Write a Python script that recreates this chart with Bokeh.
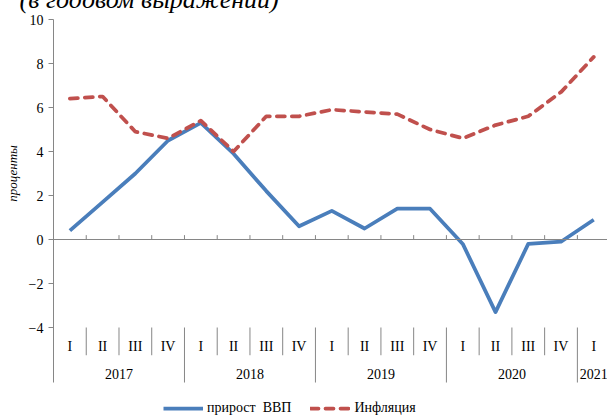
from bokeh.plotting import figure
from bokeh.models import Span, Legend, LegendItem, FixedTicker, Range1d, LinearAxis
from bokeh.core.properties import value
from bokeh.embed import file_html
from bokeh.resources import INLINE

quarters = ["I", "II", "III", "IV"] * 4 + ["I"]
years = ["2017", "2018", "2019", "2020", "2021"]
year_quarter_counts = [4, 4, 4, 4, 1]
gdp = [0.4, 1.7, 3.0, 4.5, 5.3, 3.9, 2.2, 0.6, 1.3, 0.5, 1.4, 1.4, -0.2, -3.3, -0.2, -0.1, 0.9]
inflation = [6.4, 6.5, 4.9, 4.6, 5.4, 4.0, 5.6, 5.6, 5.9, 5.8, 5.7, 5.0, 4.6, 5.2, 5.6, 6.7, 8.3]
y_ticks = [-4, -2, 0, 2, 4, 6, 8, 10]
title_text = "(в годовом выражении)"
y_label = "проценты"
series_names = ["прирост  ВВП", "Инфляция"]

FONT = "Liberation Serif"
GRAY = "#868686"

n = len(quarters)
xc = [i + 0.5 for i in range(n)]

p = figure(width=607, height=417, x_range=Range1d(0, 16.92), y_range=Range1d(-8.09, 10),
           output_backend="svg", toolbar_location=None,
           min_border_left=53, min_border_right=0, min_border_top=19, min_border_bottom=0)
p.xaxis.visible = False
p.grid.visible = False
p.outline_line_color = None

# chart title, cut off by the top edge as in the source (an empty second line lifts it)
p.title.text = title_text + "\n "
p.title.text_font = FONT
p.title.text_font_style = "italic"
p.title.text_font_size = "26px"
p.title.text_color = "#000000"
p.title.align = "left"
p.title.standoff = -47
p.title.offset = -34

ya = p.yaxis[0]
ya.ticker = FixedTicker(ticks=y_ticks)
ya.bounds = (-6.5, 10)
ya.major_tick_in = 0
ya.major_tick_out = 5
ya.minor_tick_line_color = None
ya.axis_line_color = GRAY
ya.major_tick_line_color = GRAY
ya.major_label_text_font = FONT
ya.major_label_text_font_size = "14px"
ya.major_label_text_color = "#000000"
ya.major_label_standoff = 5

# secondary invisible axis carrying the y-axis title, centred on the tick span (-4..10)
y_label_pos = (y_ticks[0] + y_ticks[-1]) / 2
ya2 = LinearAxis(ticker=FixedTicker(ticks=[y_label_pos]),
                 major_label_overrides={y_label_pos: y_label},
                 major_label_orientation="parallel",
                 axis_line_color=None, major_tick_line_color=None, minor_tick_line_color=None,
                 major_tick_in=0, major_tick_out=0, minor_tick_in=0, minor_tick_out=0,
                 major_label_text_font=FONT, major_label_text_font_style="italic",
                 major_label_text_font_size="13px", major_label_text_color="#000000",
                 major_label_standoff=5)
p.add_layout(ya2, "left")

p.add_layout(Span(location=0, dimension="width", line_color=GRAY, line_width=1))

# category axis decorations
edges = list(range(1, n))
p.segment(x0=edges, y0=[0] * len(edges), x1=edges, y1=[0.2] * len(edges), line_color=GRAY, line_width=1)
bounds = []
acc = 0
for c in year_quarter_counts:
    acc += c
    bounds.append(acc)
q_edges = [e for e in edges if e not in bounds]
y_edges = [b for b in bounds if b < n]
p.segment(x0=q_edges, y0=[-4.0] * len(q_edges), x1=q_edges, y1=[-5.26] * len(q_edges), line_color=GRAY, line_width=1)
p.segment(x0=y_edges, y0=[-4.0] * len(y_edges), x1=y_edges, y1=[-6.5] * len(y_edges), line_color=GRAY, line_width=1)

p.text(x=xc, y=[-4.85] * n, text=quarters, text_align="center", text_baseline="middle",
       text_font=value(FONT), text_font_size="14px", text_color="#000000")
ycent = []
start = 0
for c in year_quarter_counts:
    ycent.append(start + c / 2)
    start += c
p.text(x=ycent, y=[-6.12] * len(years), text=years, text_align="center", text_baseline="middle",
       text_font=value(FONT), text_font_size="14px", text_color="#000000")

r1 = p.line(xc, gdp, line_color="#4A7EBB", line_width=3.75, line_join="round")
r2 = p.line(xc, inflation, line_color="#C0504D", line_width=3.75, line_dash="8 7",
            line_cap="round", line_join="round")

legend = Legend(items=[LegendItem(label=series_names[0], renderers=[r1]),
                       LegendItem(label=series_names[1], renderers=[r2])],
                orientation="horizontal", location=(110, 0), border_line_color=None,
                background_fill_alpha=0, padding=0, margin=0, glyph_width=40, glyph_height=18,
                label_height=18, label_standoff=4, spacing=19, label_text_font=FONT,
                label_text_font_size="14px", label_text_color="#000000")
p.add_layout(legend)

open("out.html", "w").write(file_html(p, INLINE))
